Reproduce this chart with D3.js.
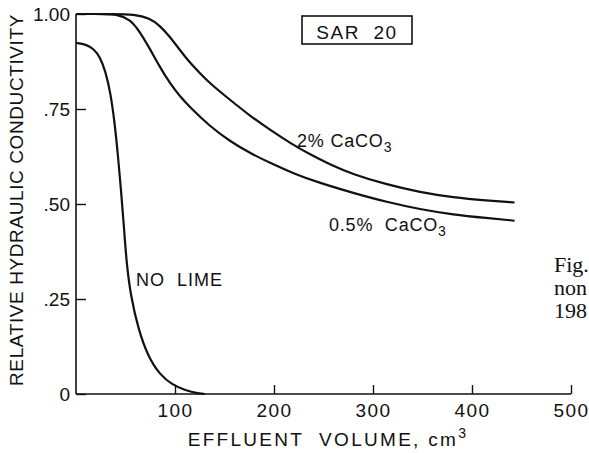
<!DOCTYPE html>
<html>
<head>
<meta charset="utf-8">
<script src="https://cdn.jsdelivr.net/npm/d3@7"></script>
<style>
  html, body { margin: 0; padding: 0; background: #fff; overflow: hidden; }
  svg { display: block; }
  text { font-family: "Liberation Sans", Arial, sans-serif; fill: #111; }
</style>
</head>
<body>
<div id="chart"></div>
<script>
// Relative hydraulic conductivity vs effluent volume, SAR 20
const xTicks = [100, 200, 300, 400, 500];
const yTicks = [0, 0.25, 0.5, 0.75, 1.0];
const yTickLabels = ['0', '.25', '.50', '.75', '1.00'];

const noLime = [
  [0, 0.924], [10, 0.92], [18, 0.908], [24, 0.888], [30, 0.848], [35, 0.79], [39, 0.715],
  [42.5, 0.625], [45.5, 0.535], [48.3, 0.445], [51, 0.345], [55.5, 0.255],
  [63, 0.17], [73, 0.097], [85, 0.05], [97, 0.025], [110, 0.01], [122, 0.002], [130, 0]
];
const lime2 = [
  [0, 1], [40, 1], [58, 0.999], [74.7, 0.989], [84.8, 0.969], [95, 0.94], [105, 0.905],
  [115, 0.872], [125, 0.845], [135, 0.818], [155.6, 0.774], [175.8, 0.732],
  [196, 0.695], [216, 0.661], [236, 0.631], [256.6, 0.604], [280, 0.578],
  [314, 0.551], [347.5, 0.531], [381, 0.517], [415, 0.509], [443, 0.504]
];
const lime05 = [
  [0, 1], [30, 1], [41, 0.999], [54.5, 0.987], [64.6, 0.953], [74.7, 0.908], [84.8, 0.86],
  [95, 0.817], [105, 0.783], [115, 0.755], [135, 0.705], [155.6, 0.665],
  [175.8, 0.634], [196, 0.608], [220, 0.58], [246.5, 0.555], [280, 0.529],
  [314, 0.505], [347.5, 0.486], [381, 0.472], [415, 0.463], [443, 0.456]
];

const W = 589, H = 453;
const margin = { left: 76, top: 14 };
const plotW = 495, plotH = 380;

const svg = d3.select('#chart').append('svg')
  .attr('width', W).attr('height', H);

const g = svg.append('g').attr('transform', `translate(${margin.left},${margin.top})`);

const x = d3.scaleLinear().domain([0, 500]).range([0, plotW]);
const y = d3.scaleLinear().domain([0, 1]).range([plotH, 0]);

// axes lines
g.append('line').attr('x1', 0).attr('x2', 0).attr('y1', y(1)).attr('y2', y(0))
  .attr('stroke', '#111').attr('stroke-width', 1.6);
g.append('line').attr('x1', 0).attr('x2', x(500)).attr('y1', y(0)).attr('y2', y(0))
  .attr('stroke', '#111').attr('stroke-width', 1.6);

// x ticks point up, inside
const xAxis = g.append('g').attr('transform', `translate(0,${plotH})`)
  .call(d3.axisBottom(x).tickValues(xTicks).tickSize(-9).tickPadding(16).tickFormat(d3.format('d')))
  .call(a => a.select('.domain').remove());
xAxis.selectAll('.tick line').attr('stroke', '#111').attr('stroke-width', 1.4);
xAxis.selectAll('.tick text')
  .attr('y', 23).attr('dy', 0)
  .style('font-size', '19px').style('letter-spacing', '1.5px').attr('fill', '#111');

// y ticks point right, inside
const yAxis = g.append('g')
  .call(d3.axisLeft(y).tickValues(yTicks).tickSize(-10).tickPadding(6)
    .tickFormat((d, i) => yTickLabels[i]))
  .call(a => a.select('.domain').remove());
yAxis.selectAll('.tick line').attr('stroke', '#111').attr('stroke-width', 1.4);
yAxis.selectAll('.tick text')
  .attr('dy', '0.36em')
  .style('font-size', '19px').attr('fill', '#111');

// curves
const line = d3.line()
  .x(d => x(d[0])).y(d => y(d[1]))
  .curve(d3.curveBasis);

[noLime, lime2, lime05].forEach(s => {
  g.append('path').datum(s)
    .attr('d', line)
    .attr('fill', 'none')
    .attr('stroke', '#111')
    .attr('stroke-width', 2.2)
    .attr('stroke-linejoin', 'round');
});

// curve labels
function caco(xp, yp, pre) {
  const t = svg.append('text').attr('x', xp).attr('y', yp)
    .style('font-size', '18px').style('letter-spacing', '0.8px').style('white-space', 'pre');
  t.append('tspan').text(pre);
  t.append('tspan').attr('dy', 5).style('font-size', '14px').text('3');
}
caco(297, 147, '2% CaCO');
caco(329, 231, '0.5%  CaCO');

svg.append('text').attr('x', 136).attr('y', 286)
  .style('font-size', '18px').style('letter-spacing', '1px')
  .style('white-space', 'pre').text('NO  LIME');

// SAR box
svg.append('rect').attr('x', 302).attr('y', 16).attr('width', 110).attr('height', 28)
  .attr('fill', 'none').attr('stroke', '#111').attr('stroke-width', 1.6);
svg.append('text').attr('x', 357).attr('y', 39).attr('text-anchor', 'middle')
  .style('font-size', '19px').style('letter-spacing', '1.5px')
  .style('white-space', 'pre').text('SAR  20');

// axis titles
const xt = svg.append('text').attr('x', 328).attr('y', 446).attr('text-anchor', 'middle')
  .style('font-size', '19px').style('letter-spacing', '2.3px').style('white-space', 'pre');
xt.append('tspan').text('EFFLUENT  VOLUME, cm');
xt.append('tspan').attr('dy', -8).style('font-size', '14px').text('3');

svg.append('text')
  .attr('transform', 'translate(23,200) rotate(-90)')
  .attr('text-anchor', 'middle')
  .style('font-size', '19px').style('letter-spacing', '0.6px')
  .text('RELATIVE HYDRAULIC CONDUCTIVITY');

// cropped caption text at right edge
const cap = ['Fig.', 'non', '198'];
cap.forEach((c, i) => {
  svg.append('text').attr('x', 554).attr('y', 272 + i * 23)
    .style('font-family', '"Liberation Serif", "Times New Roman", serif')
    .style('font-size', '22px').text(c);
});
</script>
</body>
</html>
